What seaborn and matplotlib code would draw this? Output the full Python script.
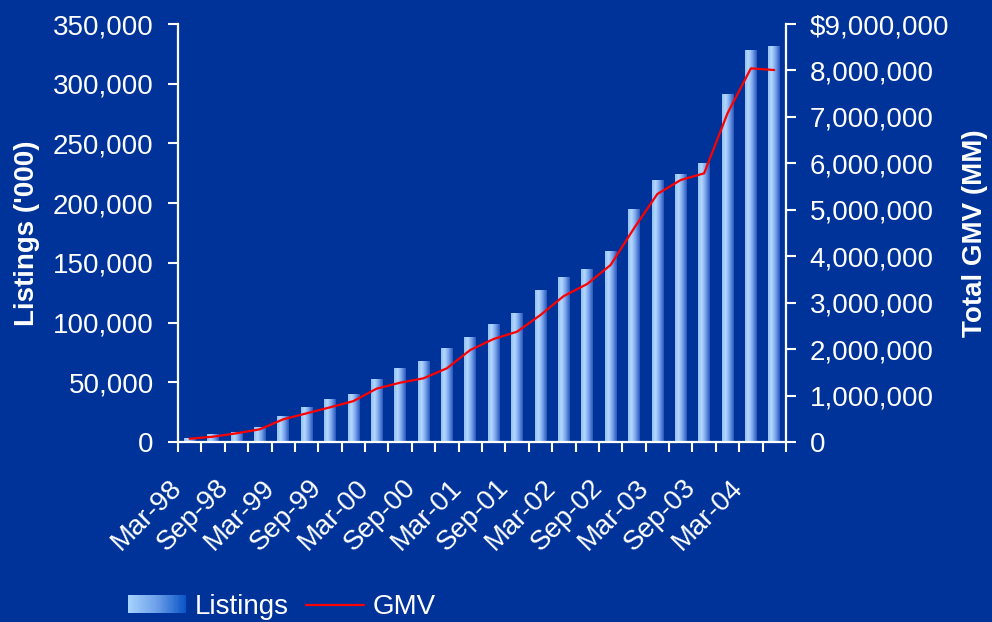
import numpy as np
import pandas as pd
import matplotlib
matplotlib.use("Agg")
import matplotlib.pyplot as plt
import matplotlib.transforms as mtransforms
import seaborn as sns
from matplotlib.colors import LinearSegmentedColormap
from matplotlib.patches import Rectangle, Patch
from matplotlib.lines import Line2D
from matplotlib.legend_handler import HandlerBase
from matplotlib.ticker import FuncFormatter, FixedLocator

# Quarterly data, Mar-98 through Jun-04
quarters = [
    "Mar-98", "Jun-98", "Sep-98", "Dec-98",
    "Mar-99", "Jun-99", "Sep-99", "Dec-99",
    "Mar-00", "Jun-00", "Sep-00", "Dec-00",
    "Mar-01", "Jun-01", "Sep-01", "Dec-01",
    "Mar-02", "Jun-02", "Sep-02", "Dec-02",
    "Mar-03", "Jun-03", "Sep-03", "Dec-03",
    "Mar-04", "Jun-04",
]
listings = [
    3500, 6700, 8400, 12500, 21800, 29300, 36000, 40200,
    52700, 62000, 67800, 78700, 87900, 98800, 108000, 127300,
    138200, 144900, 159900, 195100, 219400, 224400, 233600, 291400,
    328200, 331600,
]
gmv = [
    70000, 114000, 187000, 273000, 488000, 617000, 746000, 880000,
    1150000, 1277000, 1371000, 1587000, 1981000, 2218000, 2375000, 2734000,
    3143000, 3402000, 3811000, 4600000, 5340000, 5641000, 5785000, 7077000,
    8045000, 8009000,
]
listing_ticks = [0, 50000, 100000, 150000, 200000, 250000, 300000, 350000]
gmv_ticks = [0, 1000000, 2000000, 3000000, 4000000, 5000000, 6000000,
             7000000, 8000000, 9000000]

BG = "#003399"
FG = "white"
FS = 20

sns.set_theme(style="ticks")
plt.rcParams["font.family"] = ["Liberation Sans", "DejaVu Sans"]

bar_cmap = LinearSegmentedColormap.from_list(
    "bar", [(0.0, "#94c2f2"), (0.3, "#b4d8fd"), (0.6, "#7faaf0"), (1.0, "#2a58bc")])
legend_cmap = LinearSegmentedColormap.from_list(
    "leg", [(0.0, "#a6d2ff"), (0.5, "#6a9ee8"), (1.0, "#0a55c8")])

df = pd.DataFrame({"quarter": quarters, "listings": listings, "gmv": gmv})
df["pos"] = np.arange(len(df))

fig = plt.figure(figsize=(9.92, 6.22), dpi=100, facecolor=BG)
ax = fig.add_axes([0.1794, 0.2894, 0.7923 - 0.1794, 0.9614 - 0.2894])
ax.set_facecolor(BG)

sns.barplot(data=df, x="quarter", y="listings", order=quarters, ax=ax,
            width=0.5, color="#7faaf0", saturation=1, linewidth=0)

# Horizontal gradient fill inside each bar
grad = np.linspace(0, 1, 64).reshape(1, -1)
for p in list(ax.patches):
    x0, y0 = p.get_x(), p.get_y()
    w, h = p.get_width(), p.get_height()
    p.set_facecolor("none")
    p.set_edgecolor("none")
    im = ax.imshow(grad, extent=[x0, x0 + w, y0, y0 + h], aspect="auto",
                   cmap=bar_cmap, interpolation="bilinear", zorder=2)
    im.set_clip_path(p)

ax.set_xlim(-0.5, len(quarters) - 0.5)
ax.set_ylim(listing_ticks[0], listing_ticks[-1])

ax2 = ax.twinx()
sns.lineplot(data=df, x="pos", y="gmv", ax=ax2, color="#ff0000",
             linewidth=1.6)
ax2.set_ylim(gmv_ticks[0], gmv_ticks[-1])
ax2.set_xlim(-0.5, len(quarters) - 0.5)

# Spines
for a in (ax, ax2):
    a.spines["top"].set_visible(False)
    for s in a.spines.values():
        s.set_color(FG)
        s.set_linewidth(1.6)
ax.spines["right"].set_visible(False)
ax2.spines["left"].set_visible(False)
ax2.spines["bottom"].set_visible(False)

# X axis: labels every other quarter, tick marks at category boundaries
ax.xaxis.set_major_locator(FixedLocator(list(range(0, len(quarters), 2))))
ax.set_xticklabels(quarters[::2])
ax.xaxis.set_minor_locator(FixedLocator(list(np.arange(-0.5, len(quarters), 1.0))))
ax.tick_params(axis="x", which="major", length=0, pad=30, labelsize=FS,
               labelcolor=FG)
ax.tick_params(axis="x", which="minor", length=7.5, width=1.5, color=FG,
               direction="out")
shift = mtransforms.ScaledTranslation(-12 / 100, 0, fig.dpi_scale_trans)
for lbl in ax.get_xticklabels():
    lbl.set_rotation(45)
    lbl.set_ha("right")
    lbl.set_va("center")
    lbl.set_rotation_mode("anchor")
    lbl.set_transform(lbl.get_transform() + shift)
ax.set_xlabel("")

# Left axis
ax.set_yticks(listing_ticks)
ax.yaxis.set_major_formatter(FuncFormatter(lambda v, _: f"{v:,.0f}"))
ax.tick_params(axis="y", length=7.5, width=1.5, color=FG, labelcolor=FG,
               labelsize=FS, pad=10)
ax.set_ylabel("Listings ('000)", color=FG, fontsize=FS, fontweight="bold",
              labelpad=9)

# Right axis
ax2.set_yticks(gmv_ticks)
ax2.yaxis.set_major_formatter(FuncFormatter(
    lambda v, _: f"${v:,.0f}" if v == gmv_ticks[-1] else f"{v:,.0f}"))
ax2.tick_params(axis="y", length=7, width=1.5, color=FG, labelcolor=FG,
                labelsize=FS, pad=10)
ax2.set_ylabel("Total GMV (MM)", color=FG, fontsize=FS, fontweight="bold",
               labelpad=9)
ax2.set_xlabel("")


class GradientHandler(HandlerBase):
    def create_artists(self, legend, orig_handle, xdescent, ydescent,
                       width, height, fontsize, trans):
        n = 48
        arts = []
        for i in range(n):
            r = Rectangle((-xdescent + width * i / n, -ydescent),
                          width / n * 1.1, height,
                          facecolor=legend_cmap(i / (n - 1)),
                          edgecolor="none", linewidth=0, transform=trans)
            arts.append(r)
        return arts


bar_handle = Patch(facecolor="#7faaf0")
line_handle = Line2D([], [], color="#ff0000", linewidth=1.6)
fig.legend([bar_handle, line_handle], ["Listings", "GMV"],
           handler_map={bar_handle: GradientHandler()},
           loc="center left", bbox_to_anchor=(128 / 992, 1 - 607 / 622),
           ncol=2, frameon=False, fontsize=FS, labelcolor=FG,
           handlelength=2.1, handleheight=0.6, handletextpad=0.32,
           columnspacing=0.6, borderpad=0, borderaxespad=0)

fig.savefig("out.png", dpi=100, facecolor=BG)
